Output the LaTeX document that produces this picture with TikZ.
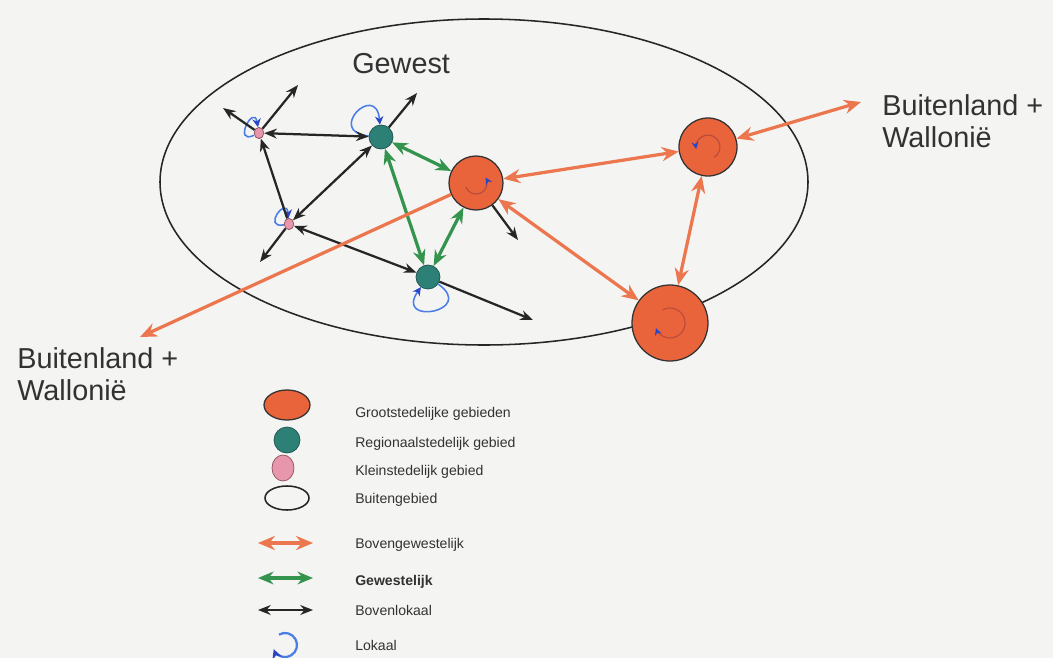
\documentclass[tikz,border=0pt]{standalone}
\usepackage{fontspec}
\setmainfont{Liberation Sans}
\usetikzlibrary{arrows.meta,shapes.geometric}

\definecolor{achtergrond}{RGB}{244,244,243}
\definecolor{tekstkl}{RGB}{50,50,50}
\definecolor{grootkl}{RGB}{233,100,58}
\definecolor{regiokl}{RGB}{45,128,118}
\definecolor{regiorand}{RGB}{30,85,80}
\definecolor{kleinkl}{RGB}{232,150,172}
\definecolor{kleinrand}{RGB}{140,80,90}
\definecolor{oranjepijl}{RGB}{236,118,78}
\definecolor{groenpijl}{RGB}{52,148,78}
\definecolor{blauwlus}{RGB}{75,125,230}
\definecolor{blauwkop}{RGB}{40,70,200}
\definecolor{binnenlus}{RGB}{185,75,60}

\begin{document}
\begin{tikzpicture}[x=0.025cm,y=0.025cm,
    groot/.style={circle,draw=black!80,fill=grootkl,line width=0.9pt,inner sep=0pt},
    regio/.style={circle,draw=regiorand,fill=regiokl,line width=0.5pt,minimum size=0.6cm,inner sep=0pt},
    klein/.style={ellipse,draw=kleinrand,fill=kleinkl,line width=0.5pt,minimum width=0.24cm,minimum height=0.28cm,inner sep=0pt},
    bovengew/.style={draw=oranjepijl,line width=2.3pt,>={Stealth[length=12pt,width=10pt]}},
    gewestpijl/.style={draw=groenpijl,line width=2.3pt,>={Stealth[length=11pt,width=9pt]}},
    bovenlok/.style={draw=black!85,line width=1.6pt,>={Stealth[length=9pt,width=7pt]}},
    lokaal/.style={loop,draw=blauwlus,line width=1.1pt,min distance=5mm,looseness=7,
        -{Stealth[length=6pt,width=6pt,color=blauwkop]}},
    lusboog/.style={draw=blauwlus,line width=1.6pt,-{Stealth[length=7pt,width=7pt,color=blauwkop]}},
    binnen/.style={draw=binnenlus,line width=0.8pt,-{Stealth[length=5pt,width=5pt,color=blauwkop]}},
    tekst/.style={text=tekstkl,font=\fontsize{20.5}{23}\selectfont,align=left,inner sep=0pt},
    legende/.style={text=tekstkl,font=\fontsize{10}{12}\selectfont,anchor=base west,inner sep=0pt}]

        % achtergrond en gewest
        \fill[achtergrond] (0,0) rectangle (1053,-658);
        \useasboundingbox (0,0) rectangle (1053,-658);
        \draw[black!85,line width=1.1pt] (484,-182) ellipse [x radius=324, y radius=163];
        \node (gewestlabel) [tekst,anchor=base west] at (352,-73) {Gewest};

        % kernen
        \node (k1) [klein] at (259,-133) {}
            edge [lokaal,out=205,in=100] (k1);
        \node (k2) [klein] at (289,-224) {}
            edge [lokaal,out=190,in=95] (k2);
        \node (r1) [regio] at (381,-137) {}
            edge [lokaal,out=175,in=95] (r1);
        \node (r2) [regio] at (428,-277) {}
            edge [lokaal,out=-35,in=-125] (r2);
        \node (g1) [groot,minimum size=1.35cm] at (476,-183) {};
        \node (g2) [groot,minimum size=1.45cm] at (708,-147) {};
        \node (g3) [groot,minimum size=1.9cm] at (670,-323) {};

        \draw[binnen] ([shift={(-10.3,-3.8)}]g1.center) arc[start angle=200,end angle=390,radius=11];
        \draw[binnen] ([shift={(6,-10.4)}]g2.center) arc[start angle=-60,end angle=190,radius=12];
        \draw[binnen] ([shift={(-7.5,13)}]g3.center) arc[start angle=120,end angle=-160,radius=15];

        % vrije uiteinden
        \coordinate (k1nw) at (223,-108);
        \coordinate (k1ne) at (298,-85);
        \coordinate (r1ne) at (417,-93);
        \coordinate (k2sw) at (260,-262);
        \coordinate (r2se) at (533,-320);
        \coordinate (g1se) at (518,-240);
        \coordinate (west) at (140,-337);
        \coordinate (oost) at (861,-102);

        % bovenlokaal
        \draw[bovenlok,<->] (k1) -- (r1);
        \draw[bovenlok,->] (k1) -- (k1nw);
        \draw[bovenlok,->] (k1) -- (k1ne);
        \draw[bovenlok,->] (k2) -- (k1);
        \draw[bovenlok,<->] (r1) -- (k2);
        \draw[bovenlok,->] (k2) -- (k2sw);
        \draw[bovenlok,<->] (k2) -- (r2);
        \draw[bovenlok,->] (r2) -- (r2se);
        \draw[bovenlok,->] (r1) -- (r1ne);
        \draw[bovenlok,->] (g1) -- (g1se);

        % gewestelijk
        \draw[gewestpijl,<->] (r1) -- (g1);
        \draw[gewestpijl,<->] (r1) -- (r2);
        \draw[gewestpijl,<->] (r2) -- (g1);

        % bovengewestelijk
        \draw[bovengew,<->] (g1) -- (g2);
        \draw[bovengew,<->] (g1) -- (g3);
        \draw[bovengew,<->] (g2) -- (g3);
        \draw[bovengew,<->] (g2) -- (oost);
        \draw[bovengew,->] (g1) -- (west);

        \node (buitenW) [tekst,anchor=north west] at (17,-347) {Buitenland +\\Wallonië};
        \node (buitenO) [tekst,anchor=north west] at (882,-94) {Buitenland +\\Wallonië};

        % legende
        \node (lgroot) [groot,ellipse,minimum width=1.15cm,minimum height=0.75cm] at (287,-405) {};
        \node (lregio) [regio,minimum size=0.65cm] at (287,-440) {};
        \node (lklein) [klein,minimum width=0.55cm,minimum height=0.65cm] at (283,-468) {};
        \node (lbuiten) [ellipse,draw=black!85,line width=1.1pt,minimum width=1.1cm,minimum height=0.6cm] at (287,-498) {};
        \foreach \stijl/\yy in {bovengew/543,gewestpijl/578,bovenlok/610} {
            \coordinate (la\yy) at (258,-\yy);
            \coordinate (lb\yy) at (313,-\yy);
            \draw[\stijl,<->] (la\yy) -- (lb\yy);
        }
        \draw[lusboog] (279,-634.6) arc[start angle=120,end angle=-160,radius=12];

        \node (tgroot) [legende] at (355,-417) {Grootstedelijke gebieden};
        \node (tregio) [legende] at (355,-447) {Regionaalstedelijk gebied};
        \node (tklein) [legende] at (355,-475) {Kleinstedelijk gebied};
        \node (tbuiten) [legende] at (355,-503) {Buitengebied};
        \node (tbovengew) [legende] at (355,-548) {Bovengewestelijk};
        \node (tgewest) [legende,font=\fontsize{10}{12}\selectfont\bfseries] at (355,-585) {Gewestelijk};
        \node (tbovenlok) [legende] at (355,-615) {Bovenlokaal};
        \node (tlokaal) [legende] at (355,-650) {Lokaal};
\end{tikzpicture}
\end{document}
